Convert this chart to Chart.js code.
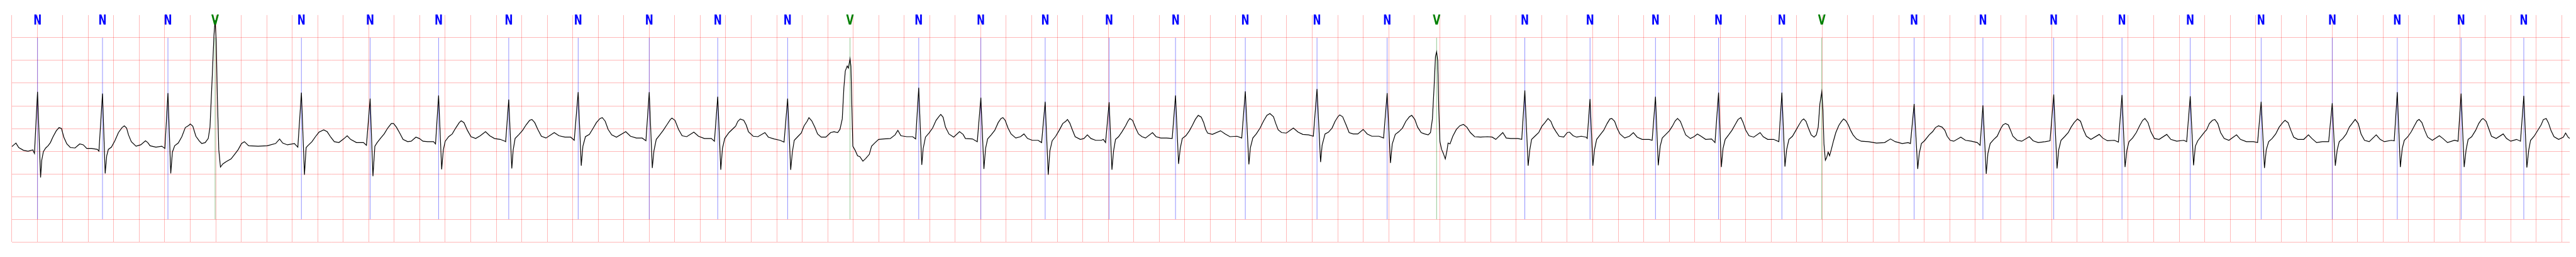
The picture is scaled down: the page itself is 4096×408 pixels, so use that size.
<!DOCTYPE html>
<html lang="en">
<head>
    <meta charset="UTF-8">
    <title>ECG strip - beat annotations</title>
    <script src="https://cdn.jsdelivr.net/npm/chart.js"></script>
    <style>
        html, body { margin: 0; padding: 0; background: #ffffff; }
        #ecgChart { display: block; }
    </style>
</head>
<body>
    <canvas id="ecgChart" width="4096" height="408"></canvas>

    <script>
        // R-peak times (s) and beat annotations
        const beatTimes = [
            0.2023, 0.7119, 1.2252, 1.5950, 2.2720, 2.8111, 3.3480, 3.8981, 4.4428, 5.0001,
            5.5373, 6.0856, 6.5750, 7.1138, 7.6011, 8.1056, 8.6073, 9.1279, 9.6753, 10.2377,
            10.7878, 11.1758, 11.8676, 12.3790, 12.8924, 13.3872, 13.8839, 14.1968, 14.9212, 15.4606,
            16.0160, 16.5514, 17.0867, 17.6429, 18.2005, 18.7106, 19.2113, 19.7029
        ];
        const beatLabels = [
            "N", "N", "N", "V", "N", "N", "N", "N", "N", "N",
            "N", "N", "V", "N", "N", "N", "N", "N", "N", "N",
            "N", "V", "N", "N", "N", "N", "N", "V", "N", "N",
            "N", "N", "N", "N", "N", "N", "N", "N"
        ];

        // signal before the first beat: [time s, mV]
        const leadIn = [[0.000, 0.10], [0.033, 0.18], [0.055, 0.08], [0.092, 0.02], [0.128, 0.00], [0.165, 0.03]];

        const beatWaves = [
            [[-0.024,-0.05],[0,1.31],[0.024,-0.58],[0.033,-0.20],[0.046,-0.01],[0.064,0.07],[0.083,0.12],[0.101,0.19],[0.120,0.31],[0.147,0.45],[0.169,0.52],[0.188,0.50],[0.206,0.31],[0.230,0.16],[0.258,0.08],[0.294,0.07],[0.331,0.16],[0.359,0.14],[0.386,0.06],[0.423,0.06],[0.469,0.04]],
            [[-0.028,0.00],[0,1.27],[0.021,-0.49],[0.033,-0.10],[0.046,0.04],[0.070,0.09],[0.097,0.23],[0.125,0.41],[0.153,0.52],[0.171,0.56],[0.189,0.51],[0.204,0.36],[0.226,0.21],[0.263,0.11],[0.300,0.14],[0.337,0.23],[0.355,0.19],[0.373,0.12],[0.419,0.09],[0.465,0.11]],
            [[-0.024,0.06],[0,1.28],[0.022,-0.49],[0.035,-0.02],[0.053,0.12],[0.081,0.18],[0.109,0.32],[0.136,0.52],[0.164,0.57],[0.175,0.60],[0.195,0.55],[0.219,0.33],[0.247,0.22],[0.265,0.17],[0.292,0.19],[0.316,0.28]],
            [[-0.040,0.53],[-0.022,1.67],[-0.009,2.55],[0,2.89],[0.009,2.42],[0.018,1.16],[0.029,0.03],[0.042,-0.35],[0.061,-0.28],[0.088,-0.23],[0.125,-0.17],[0.153,-0.07],[0.180,0.03],[0.208,0.17],[0.230,0.21],[0.263,0.12],[0.337,0.11],[0.410,0.12],[0.475,0.17],[0.506,0.27],[0.530,0.18],[0.567,0.14],[0.622,0.17]],
            [[-0.028,0.09],[0,1.29],[0.024,-0.52],[0.037,0.08],[0.050,0.12],[0.083,0.21],[0.110,0.32],[0.138,0.42],[0.175,0.47],[0.202,0.43],[0.230,0.31],[0.258,0.21],[0.294,0.19],[0.331,0.27],[0.359,0.34],[0.386,0.26],[0.432,0.19],[0.487,0.19]],
            [[-0.029,0.13],[0,1.16],[0.022,-0.55],[0.037,0.11],[0.055,0.19],[0.083,0.29],[0.110,0.38],[0.138,0.51],[0.166,0.61],[0.184,0.61],[0.206,0.53],[0.230,0.41],[0.258,0.26],[0.294,0.21],[0.322,0.22],[0.359,0.31],[0.386,0.28],[0.414,0.22],[0.451,0.21],[0.497,0.21]],
            [[-0.024,0.16],[0,1.23],[0.024,-0.40],[0.037,0.03],[0.052,0.22],[0.079,0.32],[0.107,0.38],[0.134,0.51],[0.162,0.63],[0.177,0.67],[0.199,0.63],[0.226,0.46],[0.254,0.32],[0.291,0.28],[0.327,0.34],[0.368,0.43],[0.401,0.34],[0.438,0.28],[0.484,0.26],[0.521,0.22]],
            [[-0.024,0.21],[0,1.14],[0.024,-0.38],[0.035,0.03],[0.050,0.28],[0.081,0.37],[0.109,0.46],[0.136,0.58],[0.164,0.68],[0.182,0.70],[0.204,0.63],[0.228,0.48],[0.256,0.33],[0.292,0.29],[0.357,0.41],[0.394,0.34],[0.440,0.31],[0.486,0.31]],
            [[-0.031,0.24],[0,1.30],[0.024,-0.32],[0.037,0.11],[0.057,0.32],[0.088,0.37],[0.116,0.50],[0.143,0.63],[0.171,0.72],[0.189,0.74],[0.212,0.66],[0.235,0.48],[0.263,0.36],[0.300,0.31],[0.373,0.43],[0.410,0.33],[0.456,0.29],[0.502,0.29]],
            [[-0.026,0.23],[0,1.30],[0.024,-0.37],[0.037,0.01],[0.055,0.26],[0.083,0.36],[0.110,0.46],[0.138,0.58],[0.166,0.70],[0.178,0.73],[0.202,0.68],[0.230,0.48],[0.258,0.34],[0.294,0.32],[0.350,0.42],[0.386,0.33],[0.432,0.28],[0.487,0.28]],
            [[-0.026,0.22],[0,1.20],[0.024,-0.41],[0.037,0.06],[0.055,0.28],[0.088,0.41],[0.125,0.51],[0.140,0.55],[0.158,0.66],[0.177,0.71],[0.204,0.68],[0.223,0.58],[0.241,0.43],[0.278,0.33],[0.315,0.32],[0.370,0.41],[0.397,0.31],[0.443,0.27],[0.489,0.24]],
            [[-0.028,0.20],[0,1.16],[0.024,-0.41],[0.037,-0.02],[0.052,0.24],[0.079,0.32],[0.107,0.40],[0.129,0.56],[0.153,0.66],[0.167,0.74],[0.189,0.67],[0.213,0.53],[0.235,0.38],[0.263,0.31],[0.300,0.31],[0.337,0.41],[0.364,0.43],[0.392,0.41]],
            [[-0.079,0.48],[-0.061,0.71],[-0.048,1.41],[-0.037,1.77],[-0.022,1.88],[-0.013,1.83],[0,2.04],[0.007,1.87],[0.015,0.91],[0.022,0.11],[0.040,0.02],[0.059,-0.10],[0.077,-0.12],[0.101,-0.22],[0.123,-0.16],[0.151,-0.07],[0.169,0.11],[0.197,0.19],[0.224,0.26],[0.261,0.27],[0.316,0.28],[0.353,0.36],[0.375,0.46],[0.399,0.34],[0.445,0.32],[0.491,0.32]],
            [[-0.024,0.27],[0,1.40],[0.024,-0.30],[0.035,0.06],[0.053,0.31],[0.081,0.40],[0.109,0.51],[0.136,0.68],[0.160,0.77],[0.173,0.81],[0.191,0.75],[0.210,0.53],[0.237,0.38],[0.274,0.31],[0.320,0.43],[0.348,0.37],[0.366,0.28],[0.421,0.27]],
            [[-0.028,0.21],[0,1.18],[0.024,-0.39],[0.037,0.06],[0.053,0.27],[0.081,0.36],[0.109,0.46],[0.136,0.63],[0.158,0.72],[0.173,0.74],[0.191,0.68],[0.213,0.51],[0.237,0.38],[0.274,0.29],[0.311,0.32],[0.338,0.38],[0.366,0.28],[0.403,0.24],[0.449,0.24]],
            [[-0.028,0.19],[0,1.09],[0.024,-0.52],[0.037,0.01],[0.055,0.23],[0.083,0.33],[0.110,0.46],[0.138,0.61],[0.162,0.66],[0.175,0.70],[0.193,0.62],[0.212,0.48],[0.235,0.32],[0.276,0.26],[0.304,0.28],[0.331,0.36],[0.359,0.28],[0.396,0.24],[0.441,0.24],[0.456,0.26]],
            [[-0.028,0.19],[0,1.08],[0.022,-0.41],[0.035,0.01],[0.050,0.26],[0.074,0.32],[0.101,0.43],[0.129,0.56],[0.147,0.66],[0.162,0.72],[0.184,0.68],[0.208,0.51],[0.230,0.38],[0.258,0.32],[0.285,0.29],[0.340,0.41],[0.368,0.32],[0.405,0.29],[0.451,0.29]],
            [[-0.026,0.28],[0,1.23],[0.024,-0.28],[0.037,0.06],[0.053,0.28],[0.081,0.34],[0.109,0.45],[0.132,0.57],[0.155,0.70],[0.178,0.79],[0.202,0.75],[0.221,0.63],[0.237,0.48],[0.252,0.40],[0.289,0.37],[0.353,0.45],[0.390,0.38],[0.427,0.32],[0.482,0.33]],
            [[-0.028,0.29],[0,1.32],[0.028,-0.29],[0.040,0.08],[0.059,0.29],[0.086,0.38],[0.116,0.51],[0.142,0.66],[0.169,0.79],[0.193,0.83],[0.221,0.76],[0.239,0.61],[0.258,0.47],[0.285,0.41],[0.322,0.40],[0.377,0.51],[0.414,0.42],[0.451,0.37],[0.497,0.36]],
            [[-0.029,0.33],[0,1.37],[0.028,-0.24],[0.040,0.13],[0.063,0.38],[0.090,0.42],[0.118,0.51],[0.142,0.66],[0.164,0.76],[0.178,0.80],[0.201,0.76],[0.228,0.58],[0.252,0.41],[0.283,0.38],[0.320,0.38],[0.362,0.48],[0.394,0.38],[0.430,0.33],[0.486,0.33]],
            [[-0.028,0.29],[0,1.28],[0.026,-0.26],[0.040,0.16],[0.064,0.37],[0.092,0.43],[0.120,0.51],[0.147,0.66],[0.175,0.76],[0.193,0.79],[0.217,0.70],[0.239,0.53],[0.267,0.41],[0.294,0.38],[0.322,0.36]],
            [[-0.048,0.41],[-0.033,0.71],[-0.020,1.41],[-0.009,2.09],[0,2.19],[0.009,1.99],[0.017,0.91],[0.026,0.21],[0.039,0.04],[0.053,-0.05],[0.068,-0.17],[0.081,0.01],[0.090,0.18],[0.105,0.16],[0.127,0.33],[0.155,0.48],[0.182,0.56],[0.210,0.59],[0.237,0.53],[0.265,0.41],[0.298,0.32],[0.344,0.31],[0.399,0.32],[0.436,0.31],[0.464,0.26],[0.519,0.41],[0.546,0.29],[0.583,0.28],[0.638,0.28]],
            [[-0.024,0.26],[0,1.34],[0.026,-0.32],[0.039,0.03],[0.053,0.26],[0.079,0.33],[0.109,0.41],[0.134,0.55],[0.158,0.63],[0.182,0.72],[0.204,0.66],[0.223,0.53],[0.245,0.43],[0.269,0.33],[0.305,0.31],[0.333,0.41],[0.351,0.42],[0.379,0.34],[0.407,0.31],[0.443,0.33],[0.480,0.31]],
            [[-0.022,0.28],[0,1.15],[0.022,-0.32],[0.035,0.03],[0.052,0.26],[0.079,0.36],[0.107,0.46],[0.134,0.61],[0.156,0.71],[0.171,0.72],[0.193,0.66],[0.212,0.51],[0.235,0.38],[0.272,0.29],[0.309,0.33],[0.340,0.41],[0.370,0.31],[0.410,0.26],[0.465,0.26]],
            [[-0.026,0.24],[0,1.20],[0.022,-0.31],[0.037,0.11],[0.053,0.29],[0.081,0.37],[0.109,0.45],[0.132,0.55],[0.155,0.67],[0.173,0.72],[0.195,0.66],[0.213,0.53],[0.237,0.36],[0.274,0.28],[0.302,0.32],[0.329,0.38],[0.357,0.33],[0.394,0.26],[0.440,0.27]],
            [[-0.028,0.19],[0,1.29],[0.022,-0.35],[0.035,0.06],[0.052,0.26],[0.079,0.36],[0.105,0.46],[0.129,0.58],[0.153,0.70],[0.175,0.74],[0.193,0.63],[0.212,0.47],[0.239,0.34],[0.276,0.31],[0.326,0.41],[0.350,0.32],[0.386,0.26],[0.432,0.26]],
            [[-0.024,0.21],[0,1.29],[0.024,-0.34],[0.037,0.03],[0.055,0.26],[0.083,0.33],[0.110,0.46],[0.134,0.58],[0.156,0.68],[0.171,0.71],[0.189,0.66],[0.208,0.51],[0.230,0.36],[0.252,0.31],[0.270,0.36]],
            [[-0.028,0.53],[-0.015,1.04],[0,1.31],[0.009,0.91],[0.017,0.16],[0.028,-0.20],[0.037,-0.15],[0.050,-0.02],[0.061,-0.10],[0.074,0.03],[0.092,0.23],[0.110,0.41],[0.134,0.57],[0.153,0.65],[0.171,0.71],[0.189,0.67],[0.208,0.58],[0.226,0.46],[0.245,0.36],[0.272,0.27],[0.309,0.22],[0.364,0.21],[0.429,0.18],[0.493,0.19],[0.539,0.27],[0.576,0.21],[0.631,0.17],[0.677,0.19]],
            [[-0.029,0.17],[0,1.04],[0.028,-0.39],[0.040,-0.05],[0.057,0.17],[0.081,0.23],[0.118,0.36],[0.145,0.43],[0.167,0.52],[0.191,0.56],[0.219,0.53],[0.241,0.46],[0.259,0.33],[0.283,0.24],[0.311,0.22],[0.366,0.31],[0.403,0.24],[0.449,0.22],[0.495,0.19]],
            [[-0.022,0.13],[0,1.01],[0.026,-0.50],[0.039,-0.05],[0.057,0.17],[0.085,0.26],[0.112,0.33],[0.140,0.50],[0.158,0.58],[0.177,0.61],[0.199,0.58],[0.217,0.46],[0.235,0.33],[0.269,0.24],[0.305,0.22],[0.364,0.32],[0.394,0.23],[0.434,0.19],[0.489,0.21]],
            [[-0.029,0.23],[0,1.25],[0.026,-0.38],[0.039,0.03],[0.057,0.24],[0.085,0.32],[0.114,0.41],[0.136,0.53],[0.160,0.63],[0.186,0.71],[0.210,0.66],[0.232,0.48],[0.256,0.33],[0.292,0.26],[0.357,0.37],[0.384,0.29],[0.421,0.23],[0.476,0.24]],
            [[-0.028,0.20],[0,1.24],[0.024,-0.35],[0.039,0.03],[0.055,0.21],[0.083,0.29],[0.112,0.41],[0.138,0.56],[0.162,0.68],[0.180,0.72],[0.204,0.63],[0.226,0.43],[0.254,0.28],[0.291,0.26],[0.351,0.37],[0.383,0.26],[0.429,0.22],[0.484,0.24]],
            [[-0.028,0.21],[0,1.21],[0.026,-0.31],[0.040,0.11],[0.059,0.23],[0.086,0.33],[0.114,0.43],[0.128,0.47],[0.150,0.61],[0.174,0.68],[0.193,0.70],[0.216,0.61],[0.238,0.41],[0.266,0.28],[0.303,0.24],[0.363,0.36],[0.394,0.26],[0.440,0.21],[0.495,0.21]],
            [[-0.028,0.19],[0,1.09],[0.026,-0.37],[0.040,0.03],[0.059,0.21],[0.086,0.28],[0.114,0.38],[0.141,0.53],[0.169,0.63],[0.187,0.68],[0.211,0.63],[0.233,0.46],[0.255,0.31],[0.288,0.26],[0.334,0.26],[0.371,0.36],[0.398,0.28],[0.435,0.19],[0.481,0.21]],
            [[-0.028,0.21],[0,1.06],[0.024,-0.32],[0.039,0.03],[0.055,0.21],[0.083,0.28],[0.110,0.38],[0.134,0.53],[0.161,0.63],[0.180,0.70],[0.204,0.61],[0.226,0.38],[0.253,0.24],[0.290,0.21],[0.345,0.36],[0.376,0.26],[0.409,0.21],[0.464,0.24]],
            [[-0.024,0.23],[0,1.30],[0.024,-0.35],[0.039,0.06],[0.055,0.24],[0.083,0.32],[0.110,0.43],[0.134,0.56],[0.156,0.67],[0.171,0.70],[0.193,0.63],[0.215,0.46],[0.238,0.31],[0.275,0.24],[0.330,0.34],[0.358,0.28],[0.394,0.19],[0.449,0.24]],
            [[-0.024,0.22],[0,1.27],[0.024,-0.35],[0.039,0.03],[0.055,0.26],[0.083,0.32],[0.114,0.46],[0.138,0.61],[0.160,0.70],[0.172,0.72],[0.196,0.66],[0.215,0.51],[0.238,0.33],[0.275,0.28],[0.330,0.38],[0.356,0.28],[0.389,0.22],[0.435,0.26]],
            [[-0.026,0.22],[0,1.22],[0.024,-0.36],[0.039,0.03],[0.053,0.24],[0.081,0.33],[0.114,0.48],[0.136,0.58],[0.154,0.70],[0.176,0.72],[0.194,0.62],[0.213,0.46],[0.237,0.32],[0.273,0.26],[0.310,0.31],[0.328,0.40],[0.347,0.31],[0.360,0.28]]
        ];

        // paper grid: 0.2 s columns, 0.5 mV rows
        const stripSeconds = 20.063;
        const mvGridLines = [-2, -1.5, -1, -0.5, 0, 0.5, 1, 1.5, 2, 2.5];
        const mvMin = -2, mvMax = 3;
        const markerTop = 2.5, markerBottom = -1.5;   // annotation line span (mV)
        const labelBase = 2.79;                        // label baseline (mV)
        const labelColors = { N: "#0000ff", V: "#008000" };
        const markerColors = { N: "rgba(0, 0, 255, 0.55)", V: "rgba(0, 128, 0, 0.55)" };

        const secondGridLines = [];
        for (let k = 0; k * 0.2 <= stripSeconds; k++) {
            secondGridLines.push(Math.round(k * 2) / 10);
        }

        // build the trace
        const ecgPoints = leadIn.map(p => ({ x: p[0], y: p[1] }));
        beatTimes.forEach((t0, i) => {
            beatWaves[i].forEach(p => {
                ecgPoints.push({ x: Math.round((t0 + p[0]) * 10000) / 10000, y: p[1] });
            });
        });

        // beat marker lines (under the trace) and N / V labels (on top)
        const beatAnnotations = {
            id: "beatAnnotations",
            beforeDatasetsDraw(chart) {
                const ctx = chart.ctx;
                const xs = chart.scales.x, ys = chart.scales.y;
                ctx.save();
                ctx.lineWidth = 0.8;
                beatTimes.forEach((t, i) => {
                    const x = xs.getPixelForValue(t);
                    ctx.strokeStyle = markerColors[beatLabels[i]];
                    ctx.beginPath();
                    ctx.moveTo(x, ys.getPixelForValue(markerTop));
                    ctx.lineTo(x, ys.getPixelForValue(markerBottom));
                    ctx.stroke();
                });
                ctx.restore();
            },
            afterDatasetsDraw(chart) {
                const ctx = chart.ctx;
                const xs = chart.scales.x, ys = chart.scales.y;
                const yBase = ys.getPixelForValue(labelBase);
                const capPx = yBase - ys.getPixelForValue(mvMax);
                ctx.save();
                ctx.font = "bold 20px 'DejaVu Sans'";
                ctx.textAlign = "center";
                ctx.textBaseline = "alphabetic";
                const m = ctx.measureText("N");
                const sx = 10.9 / (m.actualBoundingBoxLeft + m.actualBoundingBoxRight);
                const sy = capPx / m.actualBoundingBoxAscent;
                beatTimes.forEach((t, i) => {
                    ctx.save();
                    ctx.translate(xs.getPixelForValue(t), yBase);
                    ctx.scale(sx, sy);
                    ctx.fillStyle = labelColors[beatLabels[i]];
                    ctx.fillText(beatLabels[i], 0, 0);
                    ctx.restore();
                });
                ctx.restore();
            }
        };

        const gridColor = "rgba(255, 0, 0, 0.28)";

        new Chart(document.getElementById("ecgChart").getContext("2d"), {
            type: "line",
            data: {
                datasets: [{
                    data: ecgPoints,
                    borderColor: "#000000",
                    borderWidth: 1.2,
                    pointRadius: 0,
                    tension: 0,
                    fill: false
                }]
            },
            options: {
                responsive: false,
                animation: false,
                devicePixelRatio: 1,
                layout: { padding: { left: 18.66, right: 10, top: 23.94, bottom: 23.9 } },
                plugins: { legend: { display: false }, tooltip: { enabled: false } },
                scales: {
                    x: {
                        type: "linear",
                        min: 0,
                        max: stripSeconds,
                        afterBuildTicks: axis => { axis.ticks = secondGridLines.map(v => ({ value: v })); },
                        ticks: { display: false },
                        grid: { color: gridColor, lineWidth: 1, drawTicks: false },
                        border: { display: false }
                    },
                    y: {
                        min: mvMin,
                        max: mvMax,
                        afterBuildTicks: axis => { axis.ticks = mvGridLines.map(v => ({ value: v })); },
                        ticks: { display: false },
                        grid: { color: gridColor, lineWidth: 1, drawTicks: false },
                        border: { display: false }
                    }
                }
            },
            plugins: [beatAnnotations]
        });
    </script>
</body>
</html>
